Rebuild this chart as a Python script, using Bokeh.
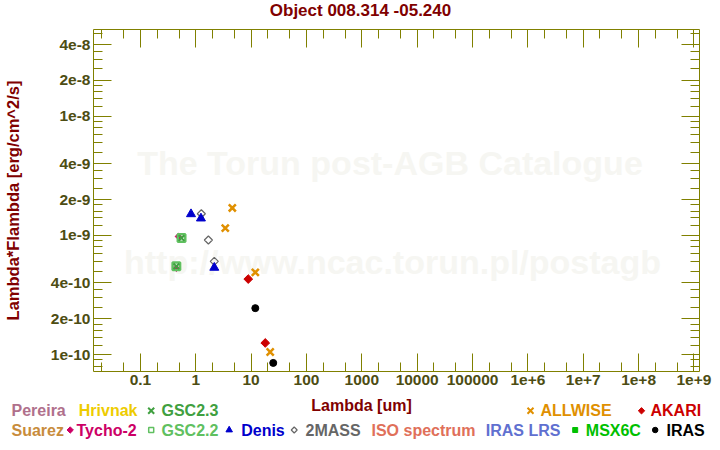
import numpy as np
from bokeh.plotting import figure
from bokeh.layouts import column
from bokeh.models import Range1d, LogAxis, FixedTicker, Label
from bokeh.core.properties import value
from bokeh.embed import file_html
from bokeh.resources import INLINE

# ---------------- data ----------------
title_text = "Object 008.314 -05.240"
x_label = "Lambda [um]"
y_label = "Lambda*Flambda [erg/cm^2/s]"

tycho2_wl = [0.484, 0.446]
tycho2_f = [9.8e-10, 5.3e-10]
gsc22_wl = [0.553, 0.446]
gsc22_f = [9.5e-10, 5.5e-10]
gsc23_wl = [0.553, 0.446]
gsc23_f = [9.5e-10, 5.5e-10]
denis_wl = [0.82, 1.24, 2.16]
denis_f = [1.51e-9, 1.39e-9, 5.36e-10]
twomass_wl = [1.26, 1.69, 2.16]
twomass_f = [1.52e-9, 9.15e-10, 6.05e-10]
allwise_wl = [3.41, 4.57, 11.9, 22.1]
allwise_f = [1.15e-9, 1.7e-9, 4.9e-10, 1.05e-10]
akari_wl = [8.87, 18.0]
akari_f = [4.3e-10, 1.25e-10]
iras_wl = [11.9, 25.1]
iras_f = [2.45e-10, 8.5e-11]

x_ticks = [0.1, 1.0, 10.0, 100.0, 1000.0, 10000.0, 100000.0, 1e6, 1e7, 1e8, 1e9]
x_tick_labels = ["0.1", "1", "10", "100", "1000", "10000", "100000",
                 "1e+6", "1e+7", "1e+8", "1e+9"]
y_ticks = [1e-10, 2e-10, 4e-10, 1e-9, 2e-9, 4e-9, 1e-8, 2e-8, 4e-8]
y_tick_labels = ["1e-10", "2e-10", "4e-10", "1e-9", "2e-9", "4e-9",
                 "1e-8", "2e-8", "4e-8"]

legend_row1 = ["Pereira", "Hrivnak", "GSC2.3", "ALLWISE", "AKARI"]
legend_row2 = ["Suarez", "Tycho-2", "GSC2.2", "Denis", "2MASS",
               "ISO spectrum", "IRAS LRS", "MSX6C", "IRAS"]

watermark_lines = ["The Torun post-AGB Catalogue", "http://www.ncac.torun.pl/postagb"]

# ---------------- styles / layout ----------------
AXIS_COL = "#808000"
TICK_TXT = "#4d4d13"
DARK_RED = "#800000"
WM_COL = "#f6f6f2"
COL = {
    "Pereira": "#b0708c", "Hrivnak": "#eecc00", "GSC2.3": "#40a040",
    "ALLWISE": "#e09000", "AKARI": "#cc0000", "Suarez": "#c88c3c",
    "Tycho-2": "#cc0066", "GSC2.2": "#60c060", "Denis": "#0000cc",
    "2MASS": "#666666", "ISO spectrum": "#e0705a", "IRAS LRS": "#6070d0",
    "MSX6C": "#00c000", "IRAS": "#000000",
}
FONT = "Liberation Sans"
W = 720
TOP_H, MAIN_H, BOT_H = 29, 366, 55

x_minor = [m * 10.0 ** e for e in range(-2, 10) for m in (2, 5)]
y_minor = [m * 10.0 ** e for e in range(-11, -7)
           for m in (1.2, 1.4, 1.6, 1.8, 2.5, 3, 3.5, 5, 6, 7, 8, 9)]


def blank_fig(h):
    f = figure(width=W, height=h, x_range=Range1d(0, W), y_range=Range1d(h, 0),
               output_backend="svg", toolbar_location=None,
               x_axis_location=None, y_axis_location=None,
               min_border=0, min_border_left=0, min_border_right=0,
               min_border_top=0, min_border_bottom=0, frame_align=False)
    f.outline_line_color = None
    f.grid.visible = False
    f.background_fill_color = "white"
    f.border_fill_color = "white"
    return f


# ---------------- title strip ----------------
top = blank_fig(TOP_H)
top.text(x=[W / 2], y=[10.3], text=[title_text], text_color=DARK_RED,
         text_font=value(FONT), text_font_size=value("17px"),
         text_font_style="bold", text_align="center", text_baseline="middle")

# ---------------- main plot ----------------
p = figure(width=W, height=MAIN_H, x_axis_type="log", y_axis_type="log",
           x_range=Range1d(0.0142, 1.26e9), y_range=Range1d(7.2e-11, 5.355e-8),
           output_backend="svg", toolbar_location=None,
           min_border_left=92, min_border_right=21,
           min_border_top=0, min_border_bottom=24, frame_align=False)
p.background_fill_color = "white"
p.border_fill_color = "white"
p.outline_line_color = None
p.grid.visible = False


def style_axis(ax, ticks, minor, labels):
    ax.ticker = FixedTicker(ticks=ticks, minor_ticks=minor)
    ax.axis_line_color = AXIS_COL
    ax.major_tick_line_color = AXIS_COL
    ax.minor_tick_line_color = AXIS_COL
    ax.major_tick_in = 18
    ax.major_tick_out = 0
    ax.minor_tick_in = 9
    ax.minor_tick_out = 0
    if labels is not None:
        ax.major_label_overrides = dict(zip(ticks, labels))
        ax.major_label_text_font = FONT
        ax.major_label_text_font_style = "bold"
        ax.major_label_text_font_size = "15.5px"
        ax.major_label_text_color = TICK_TXT
        ax.major_label_standoff = 3
    else:
        ax.major_label_overrides = {t: "" for t in ticks}
        ax.major_label_text_font_size = "0px"
        ax.major_label_standoff = 0


style_axis(p.xaxis[0], x_ticks, x_minor, x_tick_labels)
style_axis(p.yaxis[0], y_ticks, y_minor, y_tick_labels)
p.yaxis[0].axis_label = y_label
p.yaxis[0].axis_label_text_font = FONT
p.yaxis[0].axis_label_text_font_style = "bold"
p.yaxis[0].axis_label_text_font_size = "16.5px"
p.yaxis[0].axis_label_text_color = DARK_RED
p.yaxis[0].axis_label_standoff = 26

top_ax = LogAxis()
right_ax = LogAxis()
style_axis(top_ax, x_ticks, x_minor, None)
style_axis(right_ax, y_ticks, y_minor, None)
p.add_layout(top_ax, "above")
p.add_layout(right_ax, "right")

# watermark (placed in data space, drawn beneath the marks)
wm_pos = [(3228.0, 4.06e-9), (3582.0, 5.95e-10)]
for txt, (wx, wy) in zip(watermark_lines, wm_pos):
    p.add_layout(Label(x=wx, y=wy, text=txt, text_color=WM_COL, text_font=FONT,
                       text_font_size="34px", text_font_style="bold",
                       text_align="center", text_baseline="middle",
                       level="underlay"))

p.scatter(tycho2_wl, tycho2_f, marker="square", angle=np.pi / 4, size=4.5,
          color=COL["Tycho-2"])
p.scatter(gsc22_wl, gsc22_f, marker="square", size=7.5, fill_color=None,
          line_color=COL["GSC2.2"], line_width=2.5)
p.scatter(gsc23_wl, gsc23_f, marker="x", size=8, line_color=COL["GSC2.3"],
          line_width=2)
p.scatter(twomass_wl, twomass_f, marker="square", angle=np.pi / 4, size=5.7,
          fill_color=None, line_color=COL["2MASS"], line_width=1.2)
p.scatter(denis_wl, denis_f, marker="triangle", size=9, color=COL["Denis"])
p.scatter(allwise_wl, allwise_f, marker="x", size=10, line_color=COL["ALLWISE"],
          line_width=2.5)
p.scatter(akari_wl, akari_f, marker="square", angle=np.pi / 4, size=6.2,
          color=COL["AKARI"])
p.scatter(iras_wl, iras_f, marker="circle", size=7, color=COL["IRAS"])

# ---------------- bottom strip: x label + legend ----------------
bot = blank_fig(BOT_H)
bot.text(x=[361], y=[9.7], text=[x_label], text_color=DARK_RED,
         text_font=value(FONT), text_font_size=value("16px"),
         text_font_style="bold", text_align="center", text_baseline="middle")

R1, R2 = 15.3, 35.0
legend_text_x = {
    "Pereira": 11, "Hrivnak": 78.3, "GSC2.3": 161, "ALLWISE": 540, "AKARI": 650,
    "Suarez": 11, "Tycho-2": 76, "GSC2.2": 161, "Denis": 240.7, "2MASS": 305,
    "ISO spectrum": 371, "IRAS LRS": 485.3, "MSX6C": 585.3, "IRAS": 666,
}
names = legend_row1 + legend_row2
rows = [R1] * len(legend_row1) + [R2] * len(legend_row2)
bot.text(x=[legend_text_x[n] for n in names], y=rows, text=names,
         text_color=[COL[n] for n in names], text_font=value(FONT),
         text_font_size=value("16px"), text_font_style="bold",
         text_align="left", text_baseline="middle")

# legend markers: (marker, x, row, size, angle, filled, line width)
legend_marks = {
    "GSC2.3": ("x", 150.7, R1, 8.5, 0.0, True, 2.0),
    "ALLWISE": ("x", 530, R1, 8.5, 0.0, True, 2.0),
    "AKARI": ("square", 641, R1, 4.5, np.pi / 4, True, 1.0),
    "Tycho-2": ("square", 69.7, R2 - 0.5, 4.5, np.pi / 4, True, 1.0),
    "GSC2.2": ("square", 150.7, R2 - 0.5, 5.0, 0.0, False, 1.5),
    "Denis": ("triangle", 228.7, R2 - 0.5, 6.5, 0.0, True, 1.0),
    "2MASS": ("square", 293.7, R2 - 0.5, 4.2, np.pi / 4, False, 1.2),
    "MSX6C": ("square", 574.7, R2 - 0.5, 5.0, 0.0, True, 1.0),
    "IRAS": ("circle", 654.7, R2 - 0.5, 5.5, 0.0, True, 1.0),
}
for n, (mk, mx, my, ms, ang, filled, lw) in legend_marks.items():
    bot.scatter([mx], [my], marker=mk, size=ms, angle=ang,
                fill_color=COL[n] if filled else None,
                line_color=COL[n], line_width=lw)

layout = column(top, p, bot, spacing=0)
open("out.html", "w").write(file_html(layout, INLINE))
